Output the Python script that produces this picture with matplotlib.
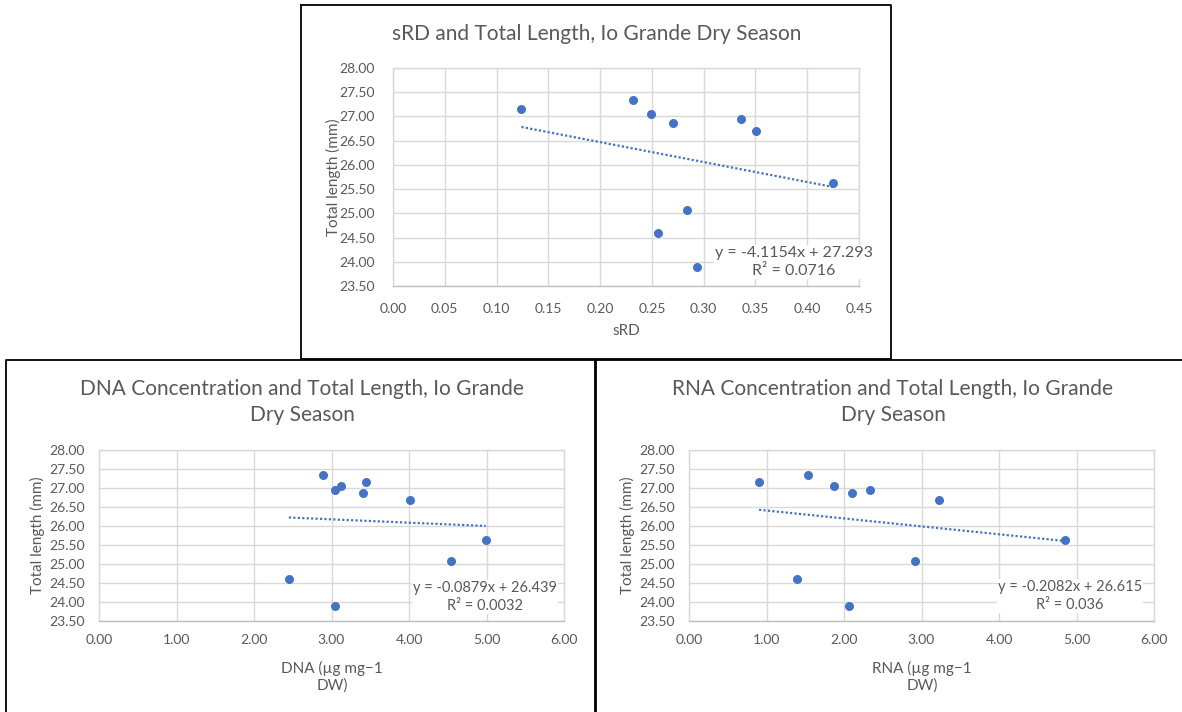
import numpy as np
import matplotlib
matplotlib.use("Agg")
import matplotlib.pyplot as plt
from matplotlib.lines import Line2D

plt.rcParams['font.family'] = ['Lato', 'DejaVu Sans']

# fish measurements, Io Grande dry season
total_length = [27.15, 27.34, 27.06, 26.86, 26.95, 26.69, 25.63, 25.07, 24.60, 23.89]
srd = [0.124, 0.2315, 0.249, 0.270, 0.336, 0.351, 0.4245, 0.284, 0.256, 0.294]
dna = [3.45, 2.89, 3.12, 3.41, 3.04, 4.01, 4.99, 4.54, 2.45, 3.04]
rna = [0.904, 1.536, 1.867, 2.105, 2.338, 3.223, 4.857, 2.917, 1.395, 2.061]

# linear trendlines (slope, intercept, r2)
srd_fit = (-4.1154, 27.293, "0.0716")
dna_fit = (-0.0879, 26.439, "0.0032")
rna_fit = (-0.2082, 26.615, "0.036")

y_ticks = np.arange(23.5, 28.01, 0.5)
srd_ticks = np.arange(0, 0.451, 0.05)
conc_ticks = np.arange(0, 6.01, 1.0)

W, H = 1182, 712
GREY = "#595959"
GRID = "#d9d9d9"
BLUE = "#4472c4"


def fx(px):
    return px / W


def fy(py):
    return 1 - py / H


def panel(box, x, fit, xticks, fmt, xlabel, title, eq_xy, eq_size,
          lab_x, lab_y, pads):
    left, top, right, bottom = box
    ax = fig.add_axes([fx(left), fy(bottom), fx(right - left), (bottom - top) / H])
    ax.set_xlim(xticks[0], xticks[-1])
    ax.set_ylim(y_ticks[0], y_ticks[-1])
    ax.set_xticks(xticks)
    ax.set_yticks(y_ticks)
    ax.set_xticklabels([fmt % v for v in xticks])
    ax.set_yticklabels(["%.2f" % v for v in y_ticks])
    ax.tick_params(length=0, labelsize=10, labelcolor=GREY)
    ax.tick_params(axis='y', pad=pads[0])
    ax.tick_params(axis='x', pad=pads[1])
    ax.grid(True, color=GRID, linewidth=1.0)
    ax.set_axisbelow(True)
    for s in ax.spines.values():
        s.set_color(GRID)
        s.set_linewidth(1.0)
    ax.spines['bottom'].set_color("#bfbfbf")

    ax.scatter(x, total_length, s=42, color=BLUE, zorder=3, linewidths=0)

    slope, intercept, r2 = fit
    xs = np.array([min(x), max(x)])
    ax.plot(xs, slope * xs + intercept, color=BLUE, linewidth=1.6,
            linestyle=(0, (1, 1)), zorder=2)

    fig.text(fx(eq_xy[0]), fy(eq_xy[1]),
             "y = %.4fx + %s\nR² = %s" % (slope, ("%.3f" % intercept), r2),
             ha='center', va='center', fontsize=eq_size, color=GREY,
             linespacing=1.35,
             bbox=dict(facecolor='white', edgecolor='none', pad=0.5))

    fig.text(fx(lab_x[0]), fy(lab_x[1]), xlabel, ha='center', va='center',
             fontsize=11, color=GREY, linespacing=1.25)
    fig.text(fx(lab_y[0]), fy(lab_y[1]), "Total length (mm)", ha='center',
             va='center', rotation=90, fontsize=11, color=GREY)
    fig.text(fx(title[1]), fy(title[2]), title[0], ha='center', va='center',
             fontsize=15, color=GREY, linespacing=1.35)
    return ax


fig = plt.figure(figsize=(W / 100, H / 100), dpi=100)

panel((393, 68, 859, 286), srd, srd_fit, srd_ticks, "%.2f", "sRD",
      ("sRD and Total Length, Io Grande Dry Season", 597, 34),
      (794, 262), 11.5, (626, 331), (333, 177), (13, 12))

panel((99, 450, 564, 621), dna, dna_fit, conc_ticks, "%.2f",
      "DNA (µg mg−1\nDW)",
      ("DNA Concentration and Total Length, Io Grande\nDry Season", 302, 402),
      (485, 597), 10.5, (332, 677), (37, 535), (10, 9))

panel((689, 450, 1154, 621), rna, rna_fit, conc_ticks, "%.2f",
      "RNA (µg mg−1\nDW)",
      ("RNA Concentration and Total Length, Io Grande\nDry Season", 893, 402),
      (1070, 596), 10.5, (922, 677), (627, 535), (10, 9))

# frames around the three charts
frames = [
    [(301, 5), (891, 5), (891, 359), (301, 359), (301, 5)],
    [(6, 712), (6, 360), (595, 360), (595, 712)],
    [(596, 712), (596, 360), (1182, 360)],
]
for pts in frames:
    xs = [fx(p[0]) for p in pts]
    ys = [fy(p[1]) for p in pts]
    fig.add_artist(Line2D(xs, ys, color='black', linewidth=1.3,
                          transform=fig.transFigure))

fig.savefig("out.png", dpi=100, facecolor='white')
